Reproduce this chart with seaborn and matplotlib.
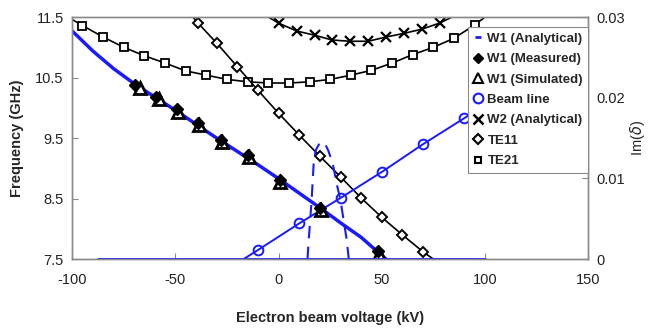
import matplotlib
matplotlib.use("Agg")
import matplotlib.pyplot as plt
import seaborn as sns
from matplotlib.lines import Line2D

# W1 analytical (frequency, left axis)
w1_kv = [-100, -90, -80, -70, -60, -50, -40, -30, -20, -10, 0, 10, 20, 30, 40, 48, 52]
w1_ghz = [11.27, 10.94, 10.65, 10.40, 10.18, 9.96, 9.73, 9.50, 9.28, 9.06, 8.83, 8.59, 8.35, 8.10, 7.86, 7.62, 7.50]

# W1 analytical Im(delta) (right axis)
im_zero_kv = [-87.5, 100]
im_zero = [0, 0]
im_kv = [14, 14.6, 16, 17, 18, 19.5, 21, 22.5, 24, 26.2, 28, 30, 32, 33, 34]
im_val = [0, 0.0024, 0.0073, 0.0119, 0.0135, 0.0142, 0.0145, 0.0143, 0.0135, 0.0119, 0.0095, 0.0073, 0.004, 0.0024, 0]

# measured / simulated
meas_kv = [-69.5, -59.6, -49.4, -39, -28, -15, 0.5, 20, 48]
meas_ghz = [10.37, 10.18, 9.98, 9.75, 9.47, 9.22, 8.81, 8.34, 7.63]
sim_kv = [-67, -58, -48.5, -38.5, -27.5, -14.5, 0.8, 20.5, 48.5]
sim_ghz = [10.33, 10.14, 9.93, 9.72, 9.44, 9.19, 8.78, 8.31, 7.58]

# beam line
beam_kv = [-17, -10, 10, 30, 50, 70, 90, 100]
beam_ghz = [7.50, 7.65, 8.09, 8.51, 8.94, 9.40, 9.83, 10.05]

# W2 analytical
w2_kv = [-5, 0, 8.7, 17.4, 26, 34.7, 43.4, 52, 60.7, 69.4, 78, 84]
w2_ghz = [11.50, 11.40, 11.27, 11.20, 11.12, 11.10, 11.10, 11.17, 11.23, 11.30, 11.40, 11.50]

# TE11
te11_kv = [-42, -39, -30, -20, -10, 0, 10, 20, 30, 40, 50, 60, 70, 75]
te11_ghz = [11.52, 11.40, 11.07, 10.68, 10.29, 9.91, 9.55, 9.20, 8.86, 8.51, 8.19, 7.90, 7.62, 7.50]

# TE21
te21_kv = [-100, -95, -85, -75, -65, -55, -45, -35, -25, -15, -5, 5, 15, 25, 35, 45, 55, 65, 75, 85, 95, 100]
te21_ghz = [11.46, 11.36, 11.17, 11.00, 10.86, 10.74, 10.61, 10.54, 10.47, 10.43, 10.41,
            10.41, 10.43, 10.47, 10.54, 10.62, 10.74, 10.88, 11.00, 11.15, 11.37, 11.50]

sns.set_theme(style="ticks")
plt.rcParams["font.family"] = ["Liberation Sans", "DejaVu Sans"]
plt.rcParams["xtick.direction"] = "in"
plt.rcParams["ytick.direction"] = "in"
plt.rcParams["axes.unicode_minus"] = False

BLUE = "#1a1aff"
GRAY = "#8a8a8a"

fig = plt.figure(figsize=(6.5, 3.28), dpi=100)
ax = fig.add_axes([0.111, 0.21, 0.794, 0.738])
ax2 = ax.twinx()

# left axis curves
sns.lineplot(x=te21_kv, y=te21_ghz, ax=ax, color="black", lw=1.2, marker="s", ms=6,
             mfc="white", mec="black", mew=1.3, markevery=slice(1, -1), sort=False)
sns.lineplot(x=te11_kv, y=te11_ghz, ax=ax, color="black", lw=1.2, marker="D", ms=5,
             mfc="white", mec="black", mew=1.4, markevery=slice(1, -1), sort=False)
sns.lineplot(x=w2_kv, y=w2_ghz, ax=ax, color="black", lw=1.2, marker="x", ms=7,
             mec="black", mew=1.6, markevery=slice(1, -1), sort=False)
sns.lineplot(x=beam_kv, y=beam_ghz, ax=ax, color=BLUE, lw=1.4, marker="o", ms=7,
             mfc="none", mec=BLUE, mew=1.4, markevery=slice(1, -1), sort=False)
sns.lineplot(x=w1_kv, y=w1_ghz, ax=ax, color=BLUE, lw=2.5, sort=False)
ax.plot(sim_kv, sim_ghz, ls="none", marker="^", ms=9, mfc="white", mec="black", mew=2)
ax.plot(meas_kv, meas_ghz, ls="none", marker="D", ms=6, color="black")

# right axis: Im(delta)
sns.lineplot(x=im_zero_kv, y=im_zero, ax=ax2, color=BLUE, lw=2, sort=False)
ax2.plot(im_kv, im_val, color=BLUE, lw=1.5, ls=(0, (6, 4)))

ax.set_xlim(-100, 150)
ax.set_ylim(7.5, 11.5)
ax2.set_ylim(0, 0.03)
ax.set_xticks([-100, -50, 0, 50, 100, 150])
ax.set_yticks([7.5, 8.5, 9.5, 10.5, 11.5])
ax.set_yticklabels(["7.5", "8.5", "9.5", "10.5", "11.5"])
ax2.set_yticks([0, 0.01, 0.02, 0.03])
ax2.set_yticklabels(["0", "0.01", "0.02", "0.03"])

for a in (ax, ax2):
    for s in a.spines.values():
        s.set_color(GRAY)
        s.set_linewidth(1)
    a.tick_params(labelsize=10.5, colors="#222222", length=4, width=0.8)
    a.tick_params(axis="both", color=GRAY)
ax.tick_params(axis="x", pad=10)
ax.tick_params(axis="y", pad=6)
ax2.tick_params(axis="y", pad=6)

ax.set_xlabel("Electron beam voltage (kV)", fontsize=10.5, fontweight="bold", labelpad=17)
ax.set_ylabel("Frequency (GHz)", fontsize=10.5, fontweight="bold", labelpad=8)
ax2.set_ylabel(r"Im($\delta$)", fontsize=10.5, labelpad=2)

handles = [
    Line2D([], [], ls="none", marker="_", ms=5, mew=2, color=BLUE),
    Line2D([], [], ls="none", marker="D", ms=5, color="black"),
    Line2D([], [], ls="none", marker="^", ms=7, mfc="white", mec="black", mew=1.5),
    Line2D([], [], ls="none", marker="o", ms=7, mfc="none", mec=BLUE, mew=1.5),
    Line2D([], [], ls="none", marker="x", ms=7, color="black", mew=1.8),
    Line2D([], [], ls="none", marker="D", ms=5, mfc="white", mec="black", mew=1.5),
    Line2D([], [], ls="none", marker="s", ms=5, mfc="white", mec="black", mew=1.5),
]
labels = ["W1 (Analytical)", "W1 (Measured)", "W1 (Simulated)", "Beam line",
          "W2 (Analytical)", "TE11", "TE21"]
leg = ax2.legend(handles, labels, loc="upper right", bbox_to_anchor=(1.0, 0.958),
                 frameon=True, fancybox=False, framealpha=1, edgecolor=GRAY,
                 handlelength=0.8, handletextpad=0.3, borderpad=0.4, labelspacing=0.62,
                 borderaxespad=0, prop={"weight": "bold", "size": 9.5})
leg.get_frame().set_linewidth(0.8)

fig.savefig("out.png", dpi=100)
